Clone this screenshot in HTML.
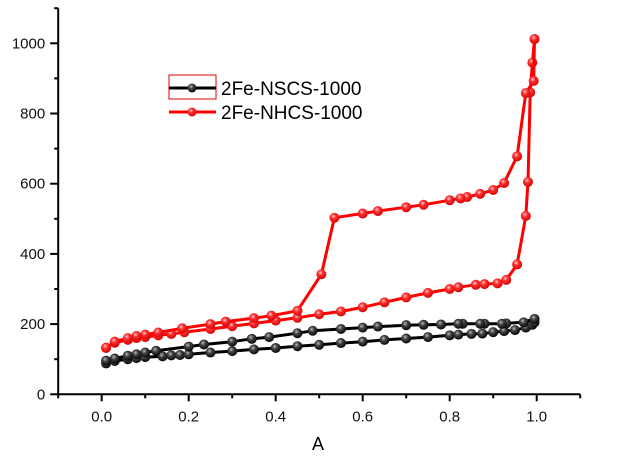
<!DOCTYPE html>
<html><head><meta charset="utf-8"><style>
html,body{margin:0;padding:0;background:#fff;}
svg{display:block;font-family:"Liberation Sans",Arial,sans-serif;}
</style></head><body>
<svg id="chart" width="626" height="460" viewBox="0 0 626 460" xmlns="http://www.w3.org/2000/svg">
<defs>
<radialGradient id="gBlack" cx="0.4" cy="0.35" r="0.7"><stop offset="0" stop-color="#bbb"/><stop offset="0.35" stop-color="#444"/><stop offset="1" stop-color="#000"/></radialGradient>
<radialGradient id="gRed" cx="0.4" cy="0.35" r="0.7"><stop offset="0" stop-color="#ffd0d0"/><stop offset="0.35" stop-color="#ff3030"/><stop offset="1" stop-color="#d00000"/></radialGradient>
</defs>
<g id="axes"></g>
<g id="series"></g>
<g id="legend">
  <rect x="169" y="75" width="47" height="24" fill="none" stroke="#e00000" stroke-width="1"/>
  <line x1="169" y1="88" x2="216" y2="88" stroke="#000" stroke-width="3"/>
  <circle cx="192" cy="88" r="4.5" fill="url(#gBlack)"/>
  <text x="221" y="95" font-size="19" fill="#000">2Fe-NSCS-1000</text>
  <line x1="169" y1="112" x2="216" y2="112" stroke="#ff0000" stroke-width="3"/>
  <circle cx="192" cy="112" r="4.5" fill="url(#gRed)"/>
  <text x="221" y="119" font-size="19" fill="#000">2Fe-NHCS-1000</text>
</g>
<text x="318" y="450" font-size="18" text-anchor="middle" fill="#000">A</text>
</svg>
<script>
const xTicks = [0.0, 0.2, 0.4, 0.6, 0.8, 1.0];
const xTickLabels = ["0.0", "0.2", "0.4", "0.6", "0.8", "1.0"];
const yTicks = [0, 200, 400, 600, 800, 1000];
const yTickLabels = ["0", "200", "400", "600", "800", "1000"];

const redAdsX = [0.01,0.03,0.06,0.08,0.10,0.13,0.16,0.19,0.25,0.30,0.35,0.40,0.45,0.50,0.55,0.60,0.65,0.70,0.75,0.80,0.82,0.86,0.88,0.91,0.93,0.955,0.975,0.98,0.985,0.99,0.995];
const redAdsY = [132,147,155,160,163,168,172,177,186,194,202,210,218,228,236,248,262,276,289,300,305,312,314,316,326,370,508,605,860,945,1012];
const redDesX = [0.995,0.993,0.975,0.955,0.925,0.90,0.87,0.84,0.825,0.80,0.74,0.70,0.635,0.60,0.535,0.505,0.45,0.39,0.35,0.285,0.25,0.185,0.13,0.10,0.08,0.06,0.03,0.01];
const redDesY = [1012,893,858,678,602,582,571,562,558,553,540,533,522,515,503,342,238,224,217,207,200,188,176,170,166,160,150,133];
const blackAdsX = [0.01,0.03,0.06,0.08,0.10,0.14,0.16,0.18,0.20,0.25,0.30,0.35,0.40,0.45,0.50,0.55,0.60,0.65,0.70,0.75,0.80,0.82,0.85,0.875,0.90,0.925,0.95,0.975,0.99,0.995];
const blackAdsY = [88,95,100,103,106,108,111,112,114,119,123,128,132,137,141,146,150,155,159,163,168,170,172,173,177,180,183,190,198,205];
const blackDesX = [0.995,0.97,0.93,0.92,0.88,0.87,0.83,0.82,0.78,0.74,0.70,0.635,0.60,0.55,0.485,0.45,0.385,0.345,0.30,0.235,0.20,0.125,0.10,0.08,0.06,0.03,0.01];
const blackDesY = [215,205,202,201,201,201,201,201,199,198,197,193,190,186,181,174,163,158,150,142,136,124,119,114,110,102,96];

const NS = "http://www.w3.org/2000/svg";
const X0 = 101.7, XS = 435;
const Y0 = 394.3, YS = 0.351;
function sx(v){ return X0 + v*XS; }
function sy(v){ return Y0 - v*YS; }
function mk(tag, attrs, parent){
  const e = document.createElementNS(NS, tag);
  for (const k in attrs) e.setAttribute(k, attrs[k]);
  parent.appendChild(e);
  return e;
}
const axes = document.getElementById('axes');
const xl = sx(-0.1), xr = sx(1.1), yt = sy(1100);
let e;
e = mk('line', {x1:xl, y1:Y0, x2:xr, y2:Y0, stroke:'#000', 'stroke-width':2}, axes);


e = mk('line', {x1:xl, y1:Y0, x2:xl, y2:yt, stroke:'#000', 'stroke-width':2}, axes);


for (let i = -1; i <= 11; i++) {
  const v = i/10, major = (i % 2 === 0);
  e = mk('line', {x1:sx(v), y1:Y0, x2:sx(v), y2:Y0 + (major ? 7 : 4), stroke:'#000', 'stroke-width':2}, axes);
  
  
}
for (let i = 0; i <= 11; i++) {
  const v = i*100, major = (i % 2 === 0);
  e = mk('line', {x1:xl - (major ? 8 : 4), y1:sy(v), x2:xl, y2:sy(v), stroke:'#000', 'stroke-width':2}, axes);
  
  
}
xTicks.forEach((v, i) => {
  e = mk('text', {x:sx(v), y:Y0 + 27, 'font-size':15, 'text-anchor':'middle', fill:'#111'}, axes);
  e.textContent = xTickLabels[i];
  
  
});
yTicks.forEach((v, i) => {
  e = mk('text', {x:xl - 13, y:sy(v) + 5, 'font-size':15, 'text-anchor':'end', fill:'#111'}, axes);
  e.textContent = yTickLabels[i];
  
  
});
const series = document.getElementById('series');
function draw(xs, ys, color, grad, name){
  const g = mk('g', {}, series);
  
  
  const pts = xs.map((x, i) => sx(x).toFixed(1) + ',' + sy(ys[i]).toFixed(1)).join(' ');
  const pl = mk('polyline', {points:pts, fill:'none', stroke:color, 'stroke-width':3, 'stroke-linejoin':'round'}, g);
  
  
  xs.forEach((x, i) => {
    const c = mk('circle', {cx:sx(x), cy:sy(ys[i]), r:5, fill:'url(#' + grad + ')'}, g);
    
    
  });
}
draw(blackAdsX, blackAdsY, '#000', 'gBlack', 'nscs-adsorption');
draw(blackDesX, blackDesY, '#000', 'gBlack', 'nscs-desorption');
draw(redAdsX, redAdsY, '#ff0000', 'gRed', 'nhcs-adsorption');
draw(redDesX, redDesY, '#ff0000', 'gRed', 'nhcs-desorption');
</script>
</body></html>
